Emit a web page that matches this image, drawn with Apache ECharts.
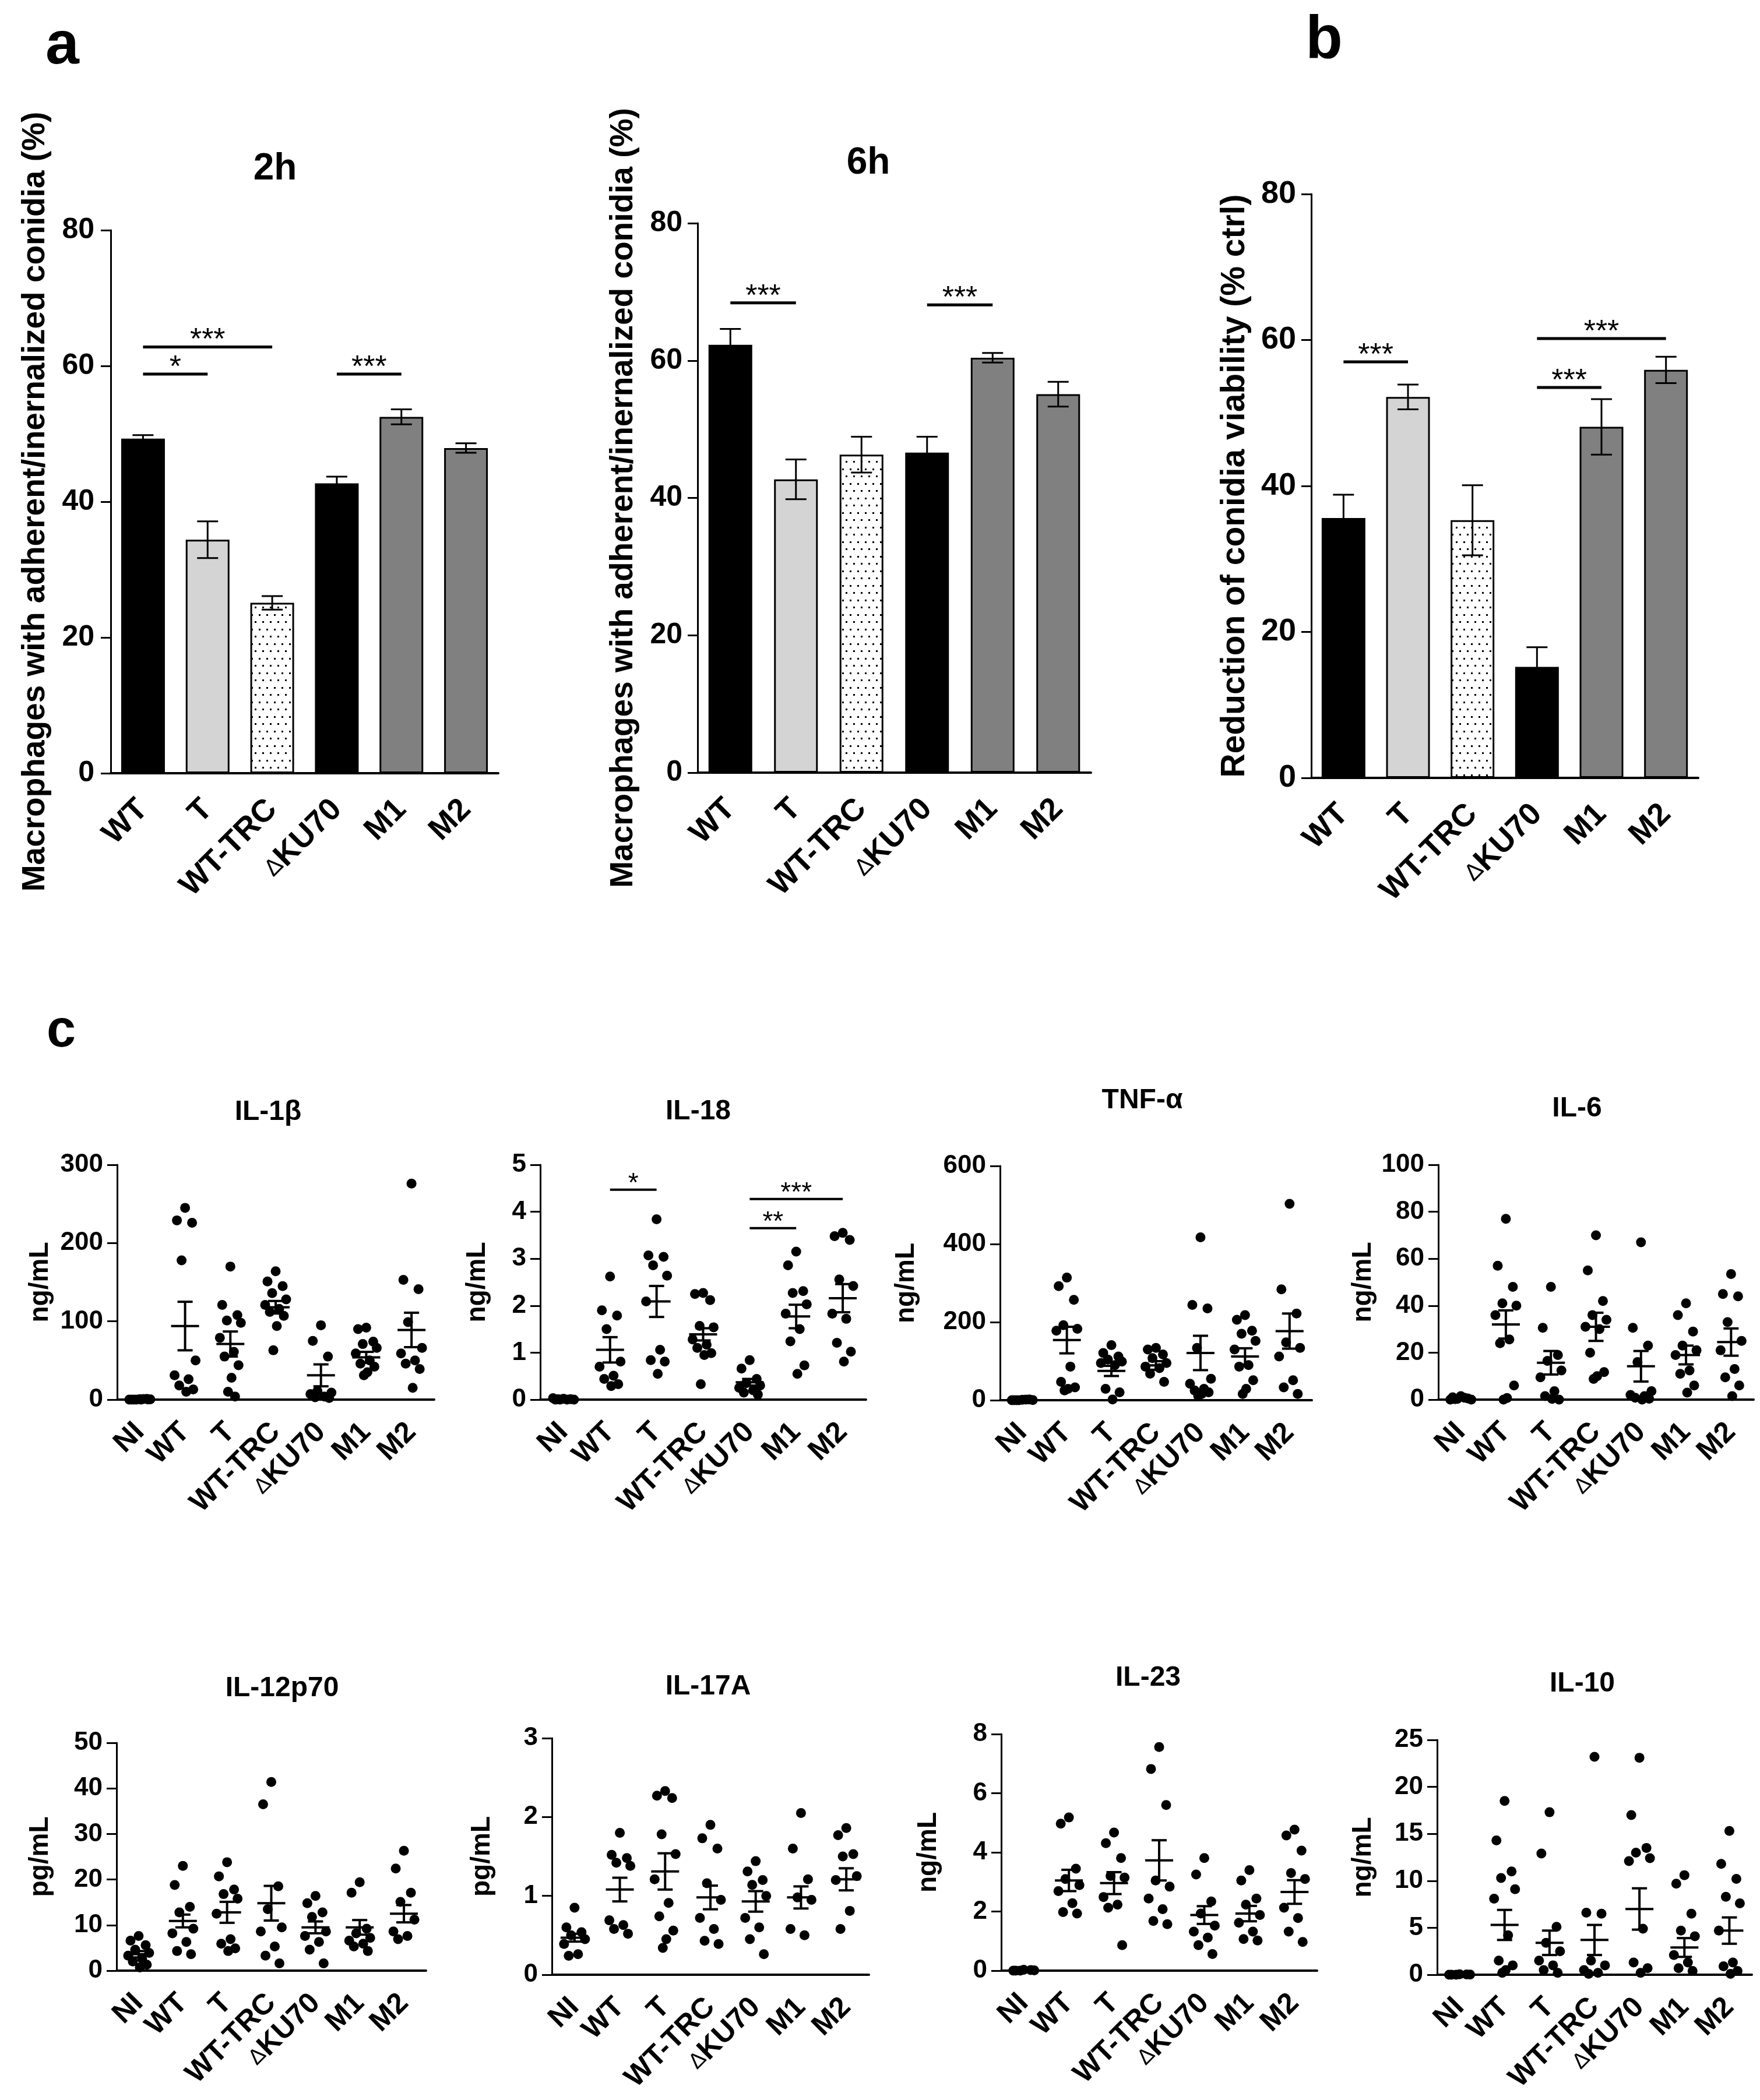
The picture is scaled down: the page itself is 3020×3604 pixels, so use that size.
<!DOCTYPE html>
<html>
<head>
<meta charset="utf-8">
<script src="https://cdn.jsdelivr.net/npm/echarts/dist/echarts.min.js"></script>
<style>
  html, body { margin: 0; padding: 0; background: #fff; }
  #main { width: 3020px; height: 3604px; }
</style>
</head>
<body>
<div id="main"></div>
<script>
// ---- panel a / b : bar charts ----
const barCats = ['WT', 'T', 'WT-TRC', 'ΔKU70', 'M1', 'M2'];
const adh2h = [49.3, 34.4, 25.1, 42.7, 52.5, 47.9];
const adh2hErr = [0.5, 2.7, 1.0, 1.0, 1.1, 0.7];
const adh6h = [62.3, 42.7, 46.3, 46.6, 60.4, 55.1];
const adh6hErr = [2.3, 2.9, 2.6, 2.3, 0.7, 1.8];
const viab = [35.6, 52.2, 35.3, 15.2, 48.1, 55.9];
const viabErr = [3.2, 1.7, 4.8, 2.7, 3.8, 1.8];
const sig2h = [[0, 1, 58.8, '*'], [0, 2, 62.8, '***'], [3, 4, 58.8, '***']];
const sig6h = [[0, 1, 68.4, '***'], [3, 4, 68.1, '***']];
const sigViab = [[0, 1, 57.0, '***'], [3, 4, 53.5, '***'], [3, 5, 60.2, '***']];

// ---- panel c : cytokines (one list per group: NI, WT, T, WT-TRC, ΔKU70, M1, M2) ----
const cytoCats = ['NI', 'WT', 'T', 'WT-TRC', 'ΔKU70', 'M1', 'M2'];

const il1bPts = [
  [0.5, 0, 1, 0, 0.3, 0, 0.8, 0, 0.2, 0],
  [245, 229, 226, 178, 50, 31, 26, 18, 13, 10],
  [170, 121, 108, 101, 98, 79, 61, 55, 44, 28, 10, 4],
  [164, 151, 145, 136, 128, 121, 116, 112, 107, 94, 63],
  [95, 75, 55, 11, 9, 7, 4, 3, 2],
  [92, 90, 74, 71, 66, 59, 50, 46, 42, 35, 31],
  [276, 153, 141, 99, 66, 59, 50, 46, 39, 15]
];
const il1bMean = [0, 94, 71, 118, 31, 54, 89];
const il1bSem = [0, 31, 16, 8, 14, 7, 22];

const il18Pts = [
  [0.02, 0, 0.01, 0, 0, 0.03, 0, 0.01],
  [2.62, 1.9, 1.79, 1.5, 0.81, 0.7, 0.51, 0.44, 0.33, 0.29],
  [3.84, 3.07, 3.04, 2.86, 2.64, 2.09, 1.06, 0.84, 0.81, 0.55],
  [2.27, 2.25, 2.12, 1.57, 1.54, 1.28, 1.17, 1.1, 0.99, 0.95, 0.33],
  [0.84, 0.66, 0.44, 0.35, 0.3, 0.25, 0.2, 0.15, 0.11],
  [3.15, 2.86, 2.31, 2.27, 2.03, 1.83, 1.5, 1.24, 0.73, 0.55],
  [3.55, 3.48, 3.4, 2.56, 2.42, 1.83, 1.72, 1.21, 1.02, 0.81]
];
const il18Mean = [0, 1.06, 2.09, 1.39, 0.37, 1.77, 2.16];
const il18Sem = [0, 0.27, 0.33, 0.13, 0.07, 0.25, 0.3];
const il18Sig = [[1, 2, 4.47, '*'], [4, 6, 4.27, '***'], [4, 5, 3.65, '**']];

const tnfPts = [
  [1, 0, 2, 0, 0.5, 0, 1.5, 0],
  [314, 292, 257, 192, 183, 178, 86, 47, 33, 29, 25],
  [141, 121, 112, 104, 99, 95, 90, 29, 20, 2],
  [134, 130, 117, 108, 95, 86, 82, 68, 47],
  [417, 244, 235, 134, 55, 42, 29, 25, 20, 16, 11],
  [218, 206, 178, 170, 152, 130, 90, 86, 51, 29, 16],
  [503, 284, 222, 148, 134, 112, 51, 33, 16]
];
const tnfMean = [0, 154, 75, 89, 121, 112, 177];
const tnfSem = [0, 34, 13, 11, 44, 21, 45];

const il6Pts = [
  [1.5, 1, 0.5, 0.3, 0, 0, 0.8, 0.2],
  [77, 57, 48, 41, 40, 36, 25.6, 24, 6, 0.7, 0],
  [48, 30.6, 19, 16.5, 12.4, 9.5, 3.6, 1.5, 0, 0.3],
  [70, 55, 42, 36, 34, 31, 30, 20, 11.7, 10, 8.8],
  [67, 30.6, 23, 16, 3.6, 2, 1.5, 0.8, 0.4, 0],
  [41, 36, 29, 23, 21, 19, 12.4, 11, 6, 3],
  [53.5, 45, 44, 33, 25, 21, 13, 9.5, 6, 1.5]
];
const il6Mean = [0.5, 32, 15.7, 31, 14.2, 19, 24.5];
const il6Sem = [0.2, 6, 5, 6, 6.5, 4, 5.8];

const il12Pts = [
  [7.6, 6.6, 5.6, 4.6, 3.9, 3.3, 2.6, 2.0, 1.3, 0.7],
  [23, 18.8, 14, 12.8, 9.2, 8.2, 6.3, 4.3, 3.6],
  [23.8, 20.7, 17.8, 16.8, 15.8, 12.5, 6.9, 5.9, 4.9, 4.3],
  [41.4, 36.5, 18.5, 13.5, 9.5, 8.6, 5.3, 3.3, 1.6],
  [16.4, 14.8, 12.8, 11.8, 8.6, 7.6, 6.3, 4.6, 1.6],
  [19.4, 17.1, 9.2, 8.2, 7.2, 6.6, 5.9, 5.3, 4.3],
  [26.3, 22.4, 17.1, 15.1, 11.2, 8.6, 7.6, 6.9]
];
const il12Mean = [3.6, 10.9, 12.8, 14.8, 9.5, 9.5, 12.5];
const il12Sem = [0.7, 1.4, 2.3, 3.8, 1.3, 1.6, 1.9];

const il17Pts = [
  [0.85, 0.6, 0.54, 0.5, 0.45, 0.39, 0.26, 0.24],
  [1.8, 1.52, 1.48, 1.42, 1.38, 0.69, 0.63, 0.58, 0.52],
  [2.33, 2.27, 2.24, 1.78, 1.53, 1.21, 0.91, 0.74, 0.56, 0.45, 0.34],
  [1.9, 1.73, 1.6, 1.16, 0.95, 0.72, 0.58, 0.43, 0.39],
  [1.44, 1.31, 1.2, 1.14, 1.0, 0.72, 0.6, 0.45, 0.26],
  [2.05, 1.6, 1.21, 0.98, 0.95, 0.58, 0.5],
  [1.86, 1.77, 1.53, 1.5, 1.25, 1.2, 0.81, 0.58]
];
const il17Mean = [0.47, 1.08, 1.31, 0.98, 0.93, 0.98, 1.21];
const il17Sem = [0.05, 0.15, 0.23, 0.15, 0.13, 0.14, 0.14];

const il23Pts = [
  [0.03, 0, 0.02, 0, 0.01, 0],
  [5.18, 4.97, 3.45, 3.1, 2.89, 2.69, 2.28, 1.98, 1.93],
  [4.67, 4.31, 3.81, 3.2, 3.15, 2.49, 2.23, 2.13, 0.86],
  [7.56, 6.82, 5.6, 3.05, 2.84, 2.44, 2.08, 1.68, 1.57],
  [3.81, 3.25, 2.34, 1.93, 1.52, 1.32, 1.12, 0.86, 0.56],
  [3.4, 3.05, 2.44, 2.23, 1.88, 1.62, 1.32, 1.07, 1.02],
  [4.77, 4.57, 4.06, 3.3, 3.1, 2.13, 1.78, 1.32, 0.97]
];
const il23Mean = [0, 3.05, 2.96, 3.73, 1.88, 1.93, 2.66];
const il23Sem = [0, 0.36, 0.37, 0.68, 0.3, 0.26, 0.4];

const il10Pts = [
  [0.05, 0, 0.03, 0, 0.02, 0],
  [18.5, 14.3, 11, 10.3, 9.1, 8.1, 4.2, 1.5, 1.0, 0.5, 0.2],
  [17.3, 12.9, 5.1, 3.4, 2.5, 1.5, 1.0, 0.5, 0.2],
  [23.2, 6.6, 6.5, 1.5, 1.0, 0.5, 0.2, 0.1],
  [23.1, 17, 13.5, 13, 12.4, 12.1, 4.9, 1.3, 0.7, 0.2],
  [10.6, 9.7, 6.5, 4.7, 4.1, 2.1, 1.3, 0.7, 0.4],
  [15.3, 11.8, 10.2, 8.3, 7.6, 4.7, 1.3, 0.9, 0.4, 0.1]
];
const il10Mean = [0, 5.3, 3.4, 3.7, 7.0, 2.9, 4.7];
const il10Sem = [0, 1.6, 1.3, 1.6, 2.2, 1.0, 1.4];

// ---- styling ----
const FONT = "'Liberation Sans', Arial, sans-serif";
const jitter = [0, -14, 12, -6, 18, -18, 6, -10, 14, 2, -4, 8];

// dotted fill of the WT-TRC bars
function dotPattern() {
  const c = document.createElement('canvas');
  c.width = 13; c.height = 25;
  const g = c.getContext('2d');
  g.fillStyle = '#fff'; g.fillRect(0, 0, 13, 25);
  g.fillStyle = '#000';
  g.fillRect(2, 4, 3, 3);
  g.fillRect(8, 16, 3, 3);
  return c;
}
const barFill = ['#000', '#d4d4d4', { image: dotPattern(), repeat: 'repeat' }, '#000', '#808080', '#808080'];

const catFormatter = v => v === 'ΔKU70' ? '{d|Δ}{b|KU70}' : v;

function xAxisFor(i, cats, fs, margin, tickLen) {
  return {
    gridIndex: i, type: 'category', data: cats,
    axisLine: { lineStyle: { color: '#000', width: 4 } },
    axisTick: { alignWithLabel: true, length: tickLen, lineStyle: { color: '#000', width: 4 } },
    axisLabel: {
      interval: 0, rotate: 45, margin: margin, color: '#000',
      fontSize: fs, fontWeight: 'bold', fontFamily: FONT,
      formatter: catFormatter,
      rich: {
        d: { fontSize: fs * 0.75, fontWeight: 'normal', fontFamily: FONT, color: '#000' },
        b: { fontSize: fs, fontWeight: 'bold', fontFamily: FONT, color: '#000' }
      }
    },
    splitLine: { show: false }
  };
}

function yAxisFor(i, max, interval, name, gap, fs, nameFs, margin) {
  return {
    gridIndex: i, type: 'value', min: 0, max: max, interval: interval,
    name: name, nameLocation: 'middle', nameRotate: 90, nameGap: gap,
    nameTextStyle: { fontSize: nameFs, fontWeight: 'bold', fontFamily: FONT, color: '#000' },
    axisLine: { show: true, lineStyle: { color: '#000', width: 3 } },
    axisTick: { show: true, length: 17, lineStyle: { color: '#000', width: 3 } },
    axisLabel: { margin: margin, fontSize: fs, fontWeight: 'bold', fontFamily: FONT, color: '#000' },
    splitLine: { show: false }
  };
}

// vertical error bar with caps, plus an optional mean line
function whiskerSeries(i, mean, err, meanHalf, capHalf, lw) {
  return {
    type: 'custom', xAxisIndex: i, yAxisIndex: i, z: 5, silent: true,
    data: mean.map((v, k) => [k, v, err[k]]),
    renderItem(params, api) {
      const x = api.value(0), v = api.value(1), e = api.value(2);
      const hi = api.coord([x, v + e]), lo = api.coord([x, v - e]), mid = api.coord([x, v]);
      const st = { stroke: '#000', lineWidth: lw };
      const kids = [
        { type: 'line', shape: { x1: hi[0], y1: hi[1], x2: lo[0], y2: lo[1] }, style: st },
        { type: 'line', shape: { x1: hi[0] - capHalf, y1: hi[1], x2: hi[0] + capHalf, y2: hi[1] }, style: st },
        { type: 'line', shape: { x1: lo[0] - capHalf, y1: lo[1], x2: lo[0] + capHalf, y2: lo[1] }, style: st }
      ];
      if (meanHalf) {
        kids.push({ type: 'line', shape: { x1: mid[0] - meanHalf, y1: mid[1], x2: mid[0] + meanHalf, y2: mid[1] }, style: st });
      }
      return { type: 'group', children: kids };
    }
  };
}

// significance bracket: line between two groups and stars above it
function sigSeries(i, sig, fs, lw) {
  return {
    type: 'custom', xAxisIndex: i, yAxisIndex: i, z: 6, silent: true,
    data: sig.map(s => [s[0], s[2]]),
    renderItem(params, api) {
      const s = sig[params.dataIndex];
      const a = api.coord([s[0], s[2]]), b = api.coord([s[1], s[2]]);
      return {
        type: 'group', children: [
          { type: 'line', shape: { x1: a[0], y1: a[1], x2: b[0], y2: b[1] }, style: { stroke: '#000', lineWidth: lw } },
          { type: 'text', style: { text: s[3], x: (a[0] + b[0]) / 2, y: a[1] + fs * 0.3, align: 'center', verticalAlign: 'bottom', fontSize: fs, fontFamily: FONT, fill: '#000' } }
        ]
      };
    }
  };
}

const barPanels = [
  { title: '2h', vals: adh2h, err: adh2hErr, sig: sig2h, name: 'Macrophages with adherent/inernalized conidia (%)', box: [190, 395, 665, 932], tpos: [472, 290], gap: 102, nameFs: 55, tickFs: 50, margin: 28 },
  { title: '6h', vals: adh6h, err: adh6hErr, sig: sig6h, name: 'Macrophages with adherent/inernalized conidia (%)', box: [1197, 383, 675, 943], tpos: [1490, 280], gap: 100, nameFs: 55, tickFs: 50, margin: 26 },
  { title: '', vals: viab, err: viabErr, sig: sigViab, name: 'Reduction of conidia viability (% ctrl)', box: [2250, 333, 664, 1002], tpos: null, gap: 102, nameFs: 57, tickFs: 54, margin: 26 }
];

const cytoPanels = [
  { title: 'IL-1β', pts: il1bPts, mean: il1bMean, sem: il1bSem, max: 300, step: 100, unit: 'ng/mL', box: [201, 1999, 544, 403], tpos: [460, 1909], gap: 109 },
  { title: 'IL-18', pts: il18Pts, mean: il18Mean, sem: il18Sem, max: 5, step: 1, unit: 'ng/mL', box: [927, 1999, 559, 403], tpos: [1198, 1908], gap: 85, sig: il18Sig },
  { title: 'TNF-α', pts: tnfPts, mean: tnfMean, sem: tnfSem, max: 600, step: 200, unit: 'ng/mL', box: [1716, 2001, 535, 402], tpos: [1960, 1889], gap: 138 },
  { title: 'IL-6', pts: il6Pts, mean: il6Mean, sem: il6Sem, max: 100, step: 20, unit: 'ng/mL', box: [2468, 1999, 541, 403], tpos: [2706, 1903], gap: 106 },
  { title: 'IL-12p70', pts: il12Pts, mean: il12Mean, sem: il12Sem, max: 50, step: 10, unit: 'pg/mL', box: [200, 2991, 531, 391], tpos: [484, 2898], gap: 108 },
  { title: 'IL-17A', pts: il17Pts, mean: il17Mean, sem: il17Sem, max: 3, step: 1, unit: 'pg/mL', box: [947, 2983, 544, 406], tpos: [1215, 2895], gap: 97 },
  { title: 'IL-23', pts: il23Pts, mean: il23Mean, sem: il23Sem, max: 8, step: 2, unit: 'ng/mL', box: [1718, 2976, 542, 406], tpos: [1970, 2880], gap: 102 },
  { title: 'IL-10', pts: il10Pts, mean: il10Mean, sem: il10Sem, max: 25, step: 5, unit: 'ng/mL', box: [2466, 2986, 540, 403], tpos: [2715, 2890], gap: 104 }
];

const grids = [], xAxes = [], yAxes = [], series = [], texts = [];

barPanels.forEach((p, i) => {
  grids.push({ left: p.box[0], top: p.box[1], width: p.box[2], height: p.box[3] });
  xAxes.push(xAxisFor(i, barCats, 54, 54, 20));
  yAxes.push(yAxisFor(i, 80, 20, p.name, p.gap, p.tickFs, p.nameFs, p.margin));
  series.push({
    type: 'bar', xAxisIndex: i, yAxisIndex: i, barWidth: 75, silent: true,
    itemStyle: { borderColor: '#000', borderWidth: 3 },
    data: p.vals.map((v, k) => ({ value: v, itemStyle: { color: barFill[k] } }))
  });
  series.push(whiskerSeries(i, p.vals, p.err, 0, 18, 3));
  series.push(sigSeries(i, p.sig, 52, 5));
  if (p.title) texts.push({ text: p.title, pos: p.tpos, fs: 64 });
});

cytoPanels.forEach((p, j) => {
  const i = j + barPanels.length;
  grids.push({ left: p.box[0], top: p.box[1], width: p.box[2], height: p.box[3] });
  xAxes.push(xAxisFor(i, cytoCats, 50, 48, 19));
  yAxes.push(yAxisFor(i, p.max, p.step, p.unit, p.gap, 44, 46, 24));
  series.push({
    type: 'scatter', xAxisIndex: i, yAxisIndex: i, symbol: 'circle', symbolSize: 17, silent: true, z: 4,
    itemStyle: { color: '#000', opacity: 1 },
    data: p.pts.flatMap((grp, k) => grp.map((v, n) => ({ value: [k, v], symbolOffset: [jitter[n % jitter.length], 0] })))
  });
  series.push(whiskerSeries(i, p.mean, p.sem, 24, 13, 4));
  if (p.sig) series.push(sigSeries(i, p.sig, 46, 4));
  texts.push({ text: p.title, pos: p.tpos, fs: 48 });
});

const graphic = texts.map(t => ({
  type: 'text', x: t.pos[0], y: t.pos[1],
  style: { text: t.text, align: 'center', verticalAlign: 'middle', fontSize: t.fs, fontWeight: 'bold', fontFamily: FONT, fill: '#000' }
}));

graphic.push(
  { type: 'text', x: 107, y: 80, style: { text: 'a', align: 'center', verticalAlign: 'middle', fontSize: 104, fontWeight: 'bold', fontFamily: FONT, fill: '#000' } },
  { type: 'text', x: 2272, y: 70, style: { text: 'b', align: 'center', verticalAlign: 'middle', fontSize: 104, fontWeight: 'bold', fontFamily: FONT, fill: '#000' } },
  { type: 'text', x: 105, y: 1771, style: { text: 'c', align: 'center', verticalAlign: 'middle', fontSize: 90, fontWeight: 'bold', fontFamily: FONT, fill: '#000' } }
);

const chart = echarts.init(document.getElementById('main'), null, { renderer: 'canvas' });
chart.setOption({
  animation: false,
  backgroundColor: '#fff',
  grid: grids,
  xAxis: xAxes,
  yAxis: yAxes,
  series: series,
  graphic: graphic
});
</script>
</body>
</html>
